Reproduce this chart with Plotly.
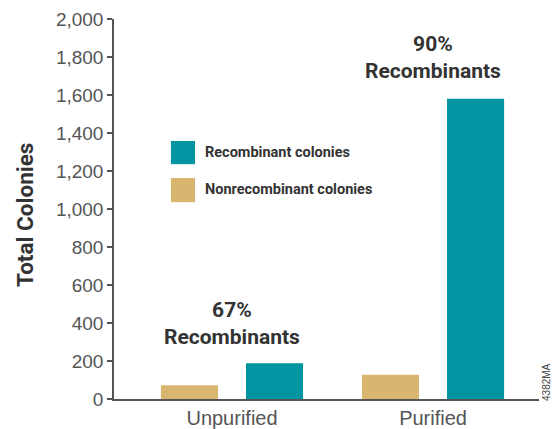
import plotly.graph_objects as go

# Colony counts per sample prep
categories = ["Unpurified", "Purified"]
series_names = ["Nonrecombinant colonies", "Recombinant colonies"]
nonrecombinant = [72, 128]
recombinant = [188, 1580]
percent_labels = ["67%<br>Recombinants", "90%<br>Recombinants"]
percent_label_y = [395, 1797]
y_ticks = list(range(0, 2001, 200))

TEAL = "#0095A0"
TAN = "#D9B66F"
AXIS = "#555555"
BOLD_FONT = "Roboto, Liberation Sans, sans-serif"
LIGHT_FONT = "Liberation Sans, Arial, sans-serif"

fig = go.Figure()
fig.add_trace(go.Bar(x=categories, y=nonrecombinant, name=series_names[0],
                     marker=dict(color=TAN, line=dict(width=0))))
fig.add_trace(go.Bar(x=categories, y=recombinant, name=series_names[1],
                     marker=dict(color=TEAL, line=dict(width=0))))

# Percent callouts above each group
for cat, txt, yv in zip(categories, percent_labels, percent_label_y):
    fig.add_annotation(x=cat, y=yv, xref="x", yref="y", text=f"<b>{txt}</b>",
                       showarrow=False, xanchor="center", yanchor="middle",
                       font=dict(family=BOLD_FONT, size=21, color="#333333"))

# Hand-built legend with large swatches
legend_rows = [(series_names[1], TEAL, 0.679, 0.618, 0.648),
               (series_names[0], TAN, 0.5816, 0.518, 0.550)]
for name, col, y1, y0, ym in legend_rows:
    fig.add_shape(type="rect", xref="paper", yref="paper",
                  x0=0.134, x1=0.1906, y0=y0, y1=y1,
                  fillcolor=col, line=dict(width=0))
    fig.add_annotation(x=0.2094, y=ym, xref="paper", yref="paper",
                       text=f"<b>{name}</b>", showarrow=False,
                       xanchor="left", yanchor="middle",
                       font=dict(family=BOLD_FONT, size=14.5, color="#333333"))

# Vertical axis title
fig.add_annotation(x=-0.209, y=0.485, xref="paper", yref="paper",
                   text="<b>Total Colonies</b>", textangle=-90, showarrow=False,
                   xanchor="center", yanchor="middle",
                   font=dict(family=BOLD_FONT, size=22.5, color="#333333"))

# Figure code along the right edge
fig.add_annotation(x=1.019, y=0.045, xref="paper", yref="paper",
                   text="4382MA", textangle=-90, showarrow=False,
                   xanchor="center", yanchor="middle",
                   font=dict(family=LIGHT_FONT, size=10, color="#444444"))

fig.update_layout(
    width=554, height=429,
    margin=dict(l=114, r=15, t=19, b=30),
    paper_bgcolor="white", plot_bgcolor="white",
    barmode="group", bargap=0.154, bargroupgap=0.329,
    showlegend=False,
    xaxis=dict(type="category", range=[-0.587, 1.527], automargin=False,
               showline=True, linecolor=AXIS, linewidth=1.5,
               ticks="", showgrid=False, zeroline=False,
               tickfont=dict(family=LIGHT_FONT, size=20, color="#555555")),
    yaxis=dict(range=[0, 2000], tickvals=y_ticks, tickformat=",d",
               separatethousands=True, automargin=False,
               showline=True, linecolor=AXIS, linewidth=1.5,
               ticks="outside", ticklen=5, tickcolor=AXIS, tickwidth=1.5,
               showgrid=False, zeroline=False,
               tickfont=dict(family=LIGHT_FONT, size=19, color="#555555")),
)

fig.write_html("out.html")
